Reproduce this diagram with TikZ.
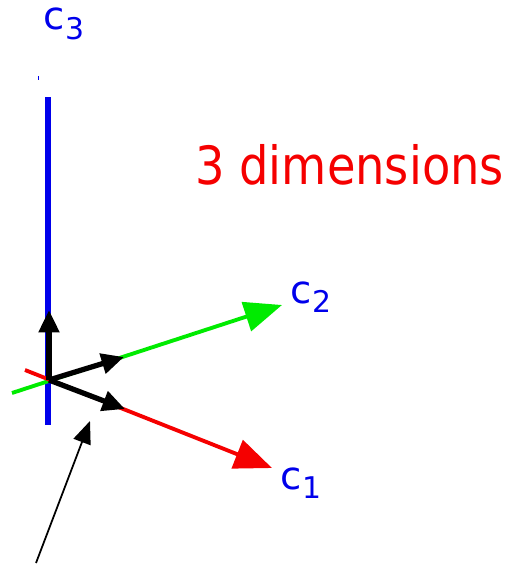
\documentclass[tikz,border=0pt]{standalone}
\usepackage{fontspec}
\setmainfont{DejaVu Sans}
\usetikzlibrary{arrows.meta}
\definecolor{axblue}{RGB}{0,0,235}
\definecolor{axgreen}{RGB}{0,235,0}
\definecolor{axred}{RGB}{245,0,0}
\tikzset{
  axline/.style={line width=3pt},
  axarr/.style={-{Triangle[length=7.5mm,width=6mm]},line width=2.2pt},
  basearr/.style={-{Triangle[length=4.5mm,width=4mm]},line width=3pt,black},
  lbl/.style={text=axblue,font=\fontsize{22}{24}\selectfont,inner sep=0pt}
}
\newcommand{\cname}[1]{c\raisebox{-0.45ex}{\fontsize{17}{19}\selectfont #1}}
\begin{document}
\begin{tikzpicture}[x=0.02cm,y=-0.02cm]
\useasboundingbox (0,0) rectangle (512,568);
% axes
\coordinate (o) at (49,380);
\coordinate (c3top) at (48,97);
\coordinate (c3bot) at (48,425);
\coordinate (c2tail) at (12,393);
\coordinate (c2tip) at (282,305);
\coordinate (c1tail) at (25,370);
\coordinate (c1tip) at (272,468);
\draw[axline,axblue] (c3top) -- (c3bot);
\fill[axblue] (38,76) rectangle (39,80);
\draw[axarr,axgreen] (c2tail) -- (c2tip);
\draw[axarr,axred] (c1tail) -- (c1tip);
% labels
\node[lbl] (c3) at (64,24) {\cname{3}};
\node[lbl] (c2) at (311,297) {\cname{2}};
\node[lbl] (c1) at (301,483) {\cname{1}};
\node[text=axred,font=\fontsize{30}{34}\selectfont,inner sep=0pt,anchor=west,xscale=0.88] (title) at (195,165) {3 dimensions};
% basis vectors
\coordinate (e3) at (49,310);
\coordinate (e2) at (124,357);
\coordinate (e1) at (125,409);
\draw[basearr] (o) -- (e3);
\draw[basearr] (o) -- (e2);
\draw[basearr] (o) -- (e1);
% pointer
\coordinate (ptail) at (36,563);
\coordinate (ptip) at (90,421);
\draw[-{Triangle[length=4.5mm,width=3.6mm]},line width=1pt] (ptail) -- (ptip);
\end{tikzpicture}
\end{document}
